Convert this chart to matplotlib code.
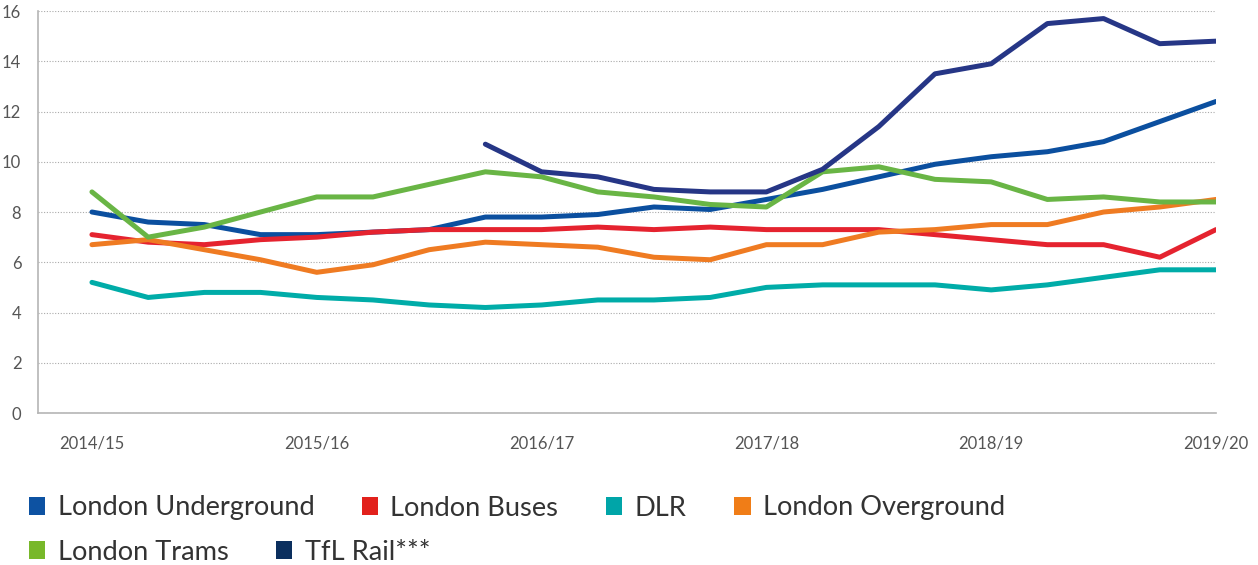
import numpy as np
import matplotlib.pyplot as plt
from matplotlib.patches import Patch

plt.rcParams['font.family'] = ['Lato', 'DejaVu Sans']

# quarterly points, 2014/15 .. 2019/20
x = np.arange(21)
tick_pos = [0, 4, 8, 12, 16, 20]
tick_labels = ['2014/15', '2015/16', '2016/17', '2017/18', '2018/19', '2019/20']

underground = [8.0, 7.6, 7.5, 7.1, 7.1, 7.2, 7.3, 7.8, 7.8, 7.9, 8.2,
               8.1, 8.5, 8.9, 9.4, 9.9, 10.2, 10.4, 10.8, 11.6, 12.4]
buses = [7.1, 6.8, 6.7, 6.9, 7.0, 7.2, 7.3, 7.3, 7.3, 7.4, 7.3,
         7.4, 7.3, 7.3, 7.3, 7.1, 6.9, 6.7, 6.7, 6.2, 7.3]
dlr = [5.2, 4.6, 4.8, 4.8, 4.6, 4.5, 4.3, 4.2, 4.3, 4.5, 4.5,
       4.6, 5.0, 5.1, 5.1, 5.1, 4.9, 5.1, 5.4, 5.7, 5.7]
overground = [6.7, 6.9, 6.5, 6.1, 5.6, 5.9, 6.5, 6.8, 6.7, 6.6, 6.2,
              6.1, 6.7, 6.7, 7.2, 7.3, 7.5, 7.5, 8.0, 8.2, 8.5]
trams = [8.8, 7.0, 7.4, 8.0, 8.6, 8.6, 9.1, 9.6, 9.4, 8.8, 8.6,
         8.3, 8.2, 9.6, 9.8, 9.3, 9.2, 8.5, 8.6, 8.4, 8.4]
tfl_rail = [np.nan] * 7 + [10.7, 9.6, 9.4, 8.9, 8.8, 8.8, 9.7,
                           11.4, 13.5, 13.9, 15.5, 15.7, 14.7, 14.8]

series = [
    ('London Underground', underground, '#0b4f9f', '#0d52a2'),
    ('London Buses', buses, '#e5232f', '#e2211c'),
    ('DLR', dlr, '#00aca8', '#00a5a8'),
    ('London Overground', overground, '#ef7b22', '#f07d17'),
    ('London Trams', trams, '#69b545', '#78b82a'),
    ('TfL Rail***', tfl_rail, '#263686', '#0b2f5e'),
]

fig = plt.figure(figsize=(12.58, 5.65), dpi=100)
ax = fig.add_axes([0.0302, 0.269, 0.9364, 0.7115])

for name, vals, col, _ in series:
    ax.plot(x, vals, color=col, linewidth=3.6, solid_capstyle='round',
            solid_joinstyle='round')

ax.set_xlim(-0.96, 20)
ax.set_ylim(0, 16)
ax.set_yticks(np.arange(0, 17, 2))
ax.set_xticks(tick_pos)
ax.set_xticklabels(tick_labels)
ax.grid(axis='y', linestyle=(0, (1, 1.5)), color='#aaaaaa', linewidth=0.8)
ax.set_axisbelow(True)
for s in ['top', 'right']:
    ax.spines[s].set_visible(False)
for s in ['left', 'bottom']:
    ax.spines[s].set_color('#b5b5b5')
    ax.spines[s].set_linewidth(1.2)
ax.tick_params(length=0, labelsize=12, colors='#555555')
ax.tick_params(axis='x', pad=16)
ax.tick_params(axis='y', pad=12)

handles = [Patch(facecolor=lc, edgecolor='none', label=name)
           for name, _, _, lc in series]
common = dict(frameon=False, fontsize=19.6, handlelength=0.6, handleheight=0.6,
              handletextpad=0.45, columnspacing=1.75, labelcolor='#333333',
              borderaxespad=0, borderpad=0)
fig.legend(handles=handles[:4], ncol=4, loc='center left',
           bbox_to_anchor=(0.023, 1 - 508 / 565), **common)
fig.legend(handles=handles[4:], ncol=2, loc='center left',
           bbox_to_anchor=(0.023, 1 - 552 / 565), **common)

fig.savefig('out.png', dpi=100)
